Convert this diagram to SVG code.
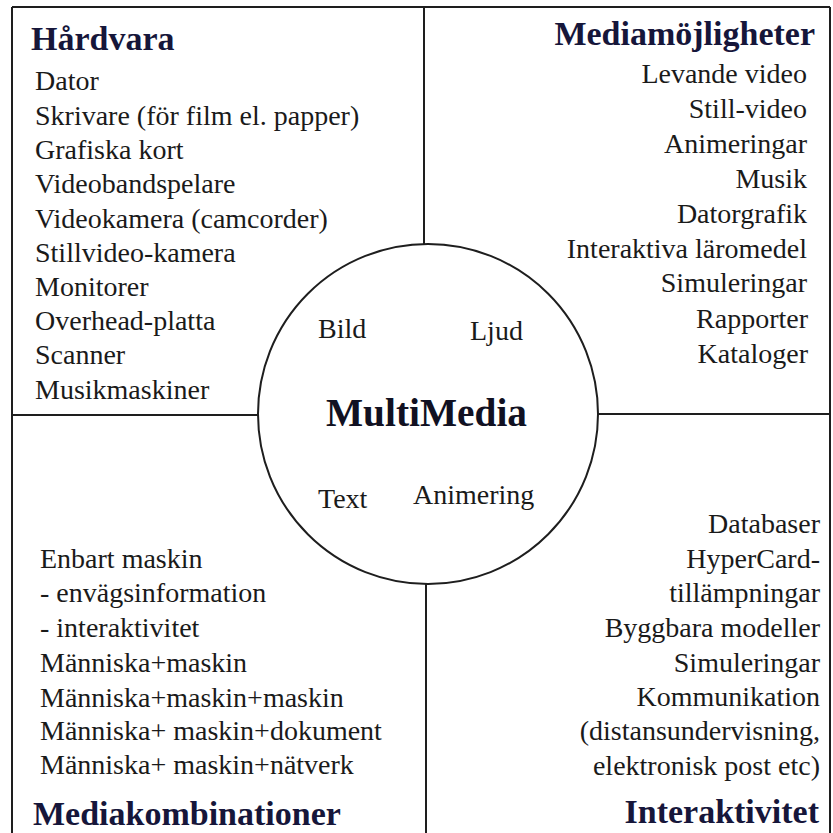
<svg xmlns="http://www.w3.org/2000/svg" width="833" height="833" viewBox="0 0 833 833">
  <style>
    .bg { fill: #ffffff; }
    .line { stroke: #1e1e1e; stroke-width: 2; fill: none; }
    .item { font-family: "Liberation Serif", "Times New Roman", serif; font-size: 28px; fill: #1a1a1a; }
    .head { font-family: "Liberation Serif", "Times New Roman", serif; font-size: 34px; font-weight: bold; fill: #16163a; }
    .core { font-family: "Liberation Serif", "Times New Roman", serif; font-size: 41px; font-weight: bold; fill: #111122; }
    .end { text-anchor: end; }
  </style>

  <rect class="bg" x="0" y="0" width="833" height="833"/>

  <!-- frame and quadrant dividers -->
  <g id="connectors">
    <line class="line" x1="12" y1="7" x2="830" y2="7"/>
    <line class="line" x1="12" y1="7" x2="12" y2="833"/>
    <line class="line" x1="830" y1="7" x2="830" y2="833"/>
    <line class="line" x1="424" y1="7" x2="424" y2="244"/>
    <line class="line" x1="426" y1="584" x2="426" y2="833"/>
    <line class="line" x1="12" y1="415" x2="259" y2="415"/>
    <line class="line" x1="598" y1="414" x2="830" y2="414"/>
  </g>

  <!-- top-left: hardware -->
  <g id="hardvara">
    <text class="head" x="31" y="50">Hårdvara</text>
    <text class="item" x="35" y="90">Dator</text>
    <text class="item" x="35" y="125">Skrivare (för film el. papper)</text>
    <text class="item" x="35" y="159">Grafiska kort</text>
    <text class="item" x="35" y="193">Videobandspelare</text>
    <text class="item" x="35" y="228">Videokamera (camcorder)</text>
    <text class="item" x="35" y="262">Stillvideo-kamera</text>
    <text class="item" x="35" y="296">Monitorer</text>
    <text class="item" x="35" y="330">Overhead-platta</text>
    <text class="item" x="35" y="364">Scanner</text>
    <text class="item" x="35" y="399">Musikmaskiner</text>
  </g>

  <!-- top-right: media possibilities -->
  <g id="mediamojligheter">
    <text class="head end" x="815" y="45">Mediamöjligheter</text>
    <text class="item end" x="807" y="83">Levande video</text>
    <text class="item end" x="807" y="118">Still-video</text>
    <text class="item end" x="807" y="153">Animeringar</text>
    <text class="item end" x="807" y="188">Musik</text>
    <text class="item end" x="807" y="223">Datorgrafik</text>
    <text class="item end" x="807" y="258">Interaktiva läromedel</text>
    <text class="item end" x="807" y="292">Simuleringar</text>
    <text class="item end" x="808" y="328">Rapporter</text>
    <text class="item end" x="808" y="363">Kataloger</text>
  </g>

  <!-- bottom-left: media combinations -->
  <g id="mediakombinationer">
    <text class="item" x="40" y="568">Enbart maskin</text>
    <text class="item" x="40" y="602">- envägsinformation</text>
    <text class="item" x="40" y="637">- interaktivitet</text>
    <text class="item" x="40" y="672">Människa+maskin</text>
    <text class="item" x="40" y="707">Människa+maskin+maskin</text>
    <text class="item" x="40" y="740">Människa+ maskin+dokument</text>
    <text class="item" x="40" y="774">Människa+ maskin+nätverk</text>
    <text class="head" x="33" y="825">Mediakombinationer</text>
  </g>

  <!-- bottom-right: interactivity -->
  <g id="interaktivitet">
    <text class="item end" x="820" y="533">Databaser</text>
    <text class="item end" x="820" y="568">HyperCard-</text>
    <text class="item end" x="820" y="602">tillämpningar</text>
    <text class="item end" x="820" y="637">Byggbara modeller</text>
    <text class="item end" x="820" y="672">Simuleringar</text>
    <text class="item end" x="820" y="706">Kommunikation</text>
    <text class="item end" x="820" y="740">(distansundervisning,</text>
    <text class="item end" x="820" y="775">elektronisk post etc)</text>
    <text class="head end" x="819" y="823">Interaktivitet</text>
  </g>

  <!-- centre: multimedia circle -->
  <g id="multimedia">
    <circle class="line" cx="428" cy="414" r="170" fill="#ffffff"/>
    <text class="item" x="318" y="338">Bild</text>
    <text class="item" x="470" y="340">Ljud</text>
    <text class="core" x="326" y="426" textLength="201" lengthAdjust="spacingAndGlyphs">MultiMedia</text>
    <text class="item" x="318" y="508">Text</text>
    <text class="item" x="413" y="504">Animering</text>
  </g>
</svg>
